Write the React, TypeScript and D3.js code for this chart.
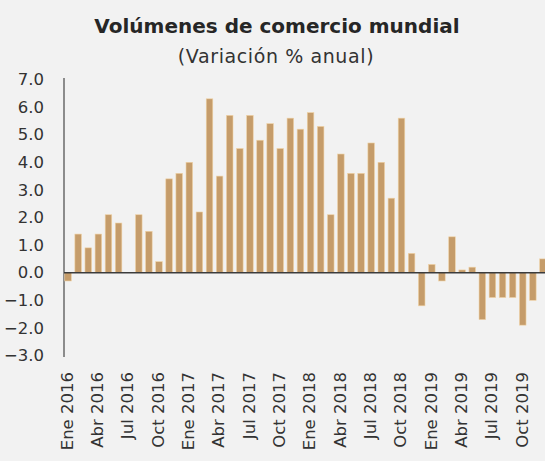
import React from "react";
import * as d3 from "d3";

const monthNames = ["Ene", "Feb", "Mar", "Abr", "May", "Jun", "Jul", "Ago", "Sep", "Oct", "Nov", "Dic"];
const years = [2016, 2017, 2018, 2019];

const values2016 = [-0.3, 1.4, 0.9, 1.4, 2.1, 1.8, 0.0, 2.1, 1.5, 0.4, 3.4, 3.6];
const values2017 = [4.0, 2.2, 6.3, 3.5, 5.7, 4.5, 5.7, 4.8, 5.4, 4.5, 5.6, 5.2];
const values2018 = [5.8, 5.3, 2.1, 4.3, 3.6, 3.6, 4.7, 4.0, 2.7, 5.6, 0.7, -1.2];
const values2019 = [0.3, -0.3, 1.3, 0.1, 0.2, -1.7, -0.9, -0.9, -0.9, -1.9, -1.0, 0.5];

const yTicks = [-3, -2, -1, 0, 1, 2, 3, 4, 5, 6, 7];

const title = "Volúmenes de comercio mundial";
const subtitle = "(Variación % anual)";

const font = "'DejaVu Sans', sans-serif";

const App = () => {
    const width = 545,
        height = 461;

    const categories = years.flatMap((yr) => monthNames.map((m) => `${m} ${yr}`));
    const values = [...values2016, ...values2017, ...values2018, ...values2019];
    const data = categories.map((c, i) => ({ label: c, value: values[i] }));

    const x = d3.scaleBand()
        .domain(categories)
        .range([63, 548])
        .paddingInner(0.35)
        .paddingOuter(0.175);

    const y = d3.scaleLinear().domain([-3, 7]).range([355.5, 79.5]);
    const fmt = d3.format(".1f");

    const shown = categories.filter((_, i) => i % 3 === 0);

    return (
        <div style={{ position: "absolute", left: 0, top: 0 }}>
            <svg width={width} height={height} style={{ display: "block", background: "#f2f2f2" }}>
                <text x={277} y={33} textAnchor="middle" fontFamily={font} fontWeight="bold"
                    fontSize={20} fill="#262626">{title}</text>
                <text x={276} y={63} textAnchor="middle" fontFamily={font}
                    fontSize={19} letterSpacing={0.6} fill="#333">{subtitle}</text>

                {yTicks.map((t) => (
                    <text key={t} x={44} y={y(t)} dy="0.35em" textAnchor="end"
                        fontFamily={font} fontSize={16.5} fill="#333">{fmt(t)}</text>
                ))}

                <line x1={64} x2={64} y1={78} y2={357} stroke="#8c8c8c" strokeWidth={2} />

                {data.map((d) => (
                    <rect key={d.label}
                        x={x(d.label)}
                        width={x.bandwidth()}
                        y={y(Math.max(0, d.value))}
                        height={Math.abs(y(d.value) - y(0))}
                        fill="#c59c6a"
                        stroke="#f0d3a6"
                        strokeWidth={0.6} />
                ))}

                <line x1={64} x2={width} y1={y(0)} y2={y(0)} stroke="#3c3c3c" strokeWidth={1.5} />

                {shown.map((c) => {
                    const cx = (x(c) as number) + x.bandwidth() / 2 - 1;
                    return (
                        <text key={c} transform={`translate(${cx}, 372) rotate(-90)`}
                            dy="0.35em" textAnchor="end" fontFamily={font} fontSize={16.5}
                            fill="#333">{c}</text>
                    );
                })}
            </svg>
        </div>
    );
};

export default App;
